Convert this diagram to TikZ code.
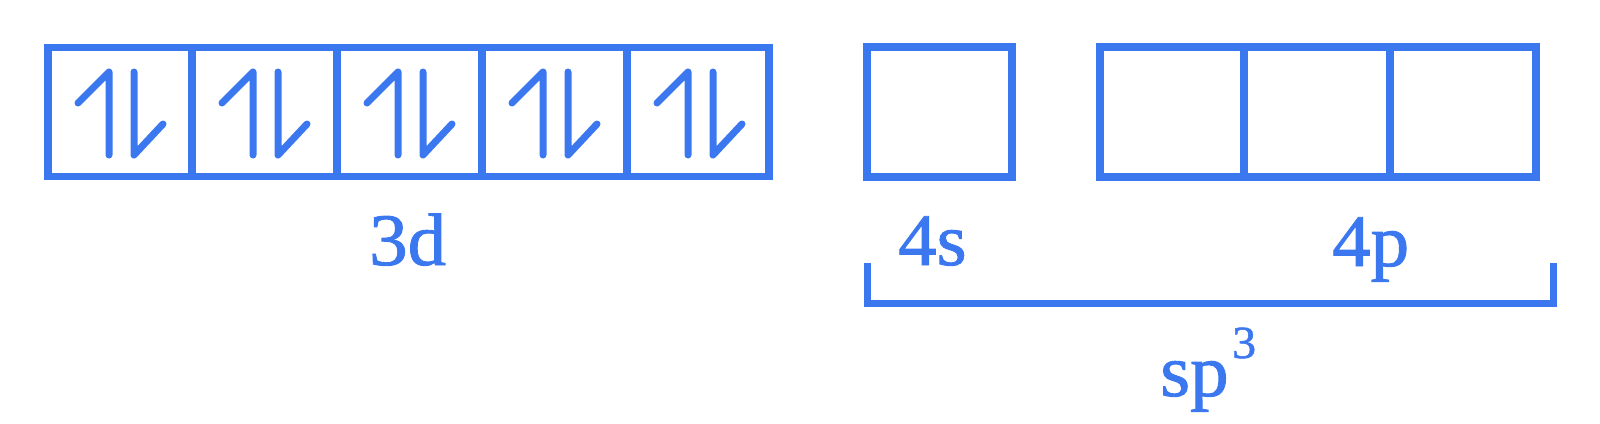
\documentclass[tikz,border=0pt]{standalone}
\usepackage{fontspec}
\setmainfont{Liberation Serif}
\newfontfamily\labfont[FakeBold=1.2,FakeStretch=1.04]{Liberation Serif}
\definecolor{orb}{RGB}{59,120,240}
\begin{document}
\begin{tikzpicture}[x=1pt,y=-1pt,
  orbbox/.style={draw=orb,line width=7.5pt,rectangle,inner sep=0pt,outer sep=0pt,minimum height=129pt},
  spin/.style={draw=orb,line width=7pt,line cap=round,line join=round},
  lab/.style={text=orb,anchor=base west,inner sep=0pt,font=\labfont\fontsize{74}{80}\selectfont},
  supl/.style={text=orb,anchor=base west,inner sep=0pt,font=\labfont\fontsize{46}{50}\selectfont},
  brk/.style={draw=orb,line width=7pt}]
\useasboundingbox (0,0) rectangle (1600,423);
% 3d boxes
\node[orbbox,minimum width=144pt] (d1) at (120,112) {};
\node[orbbox,minimum width=145pt] (d2) at (264.5,112) {};
\node[orbbox,minimum width=145pt] (d3) at (409.5,112) {};
\node[orbbox,minimum width=145pt] (d4) at (554.5,112) {};
\node[orbbox,minimum width=142pt] (d5) at (698,112) {};
% 4s box
\node[orbbox,minimum width=145pt,minimum height=130pt] (s) at (939.5,112) {};
% 4p boxes
\node[orbbox,minimum width=144pt,minimum height=130pt] (p1) at (1172,112) {};
\node[orbbox,minimum width=146pt,minimum height=130pt] (p2) at (1317,112) {};
\node[orbbox,minimum width=146pt,minimum height=130pt] (p3) at (1463,112) {};
% paired spins
\foreach \b/\xl in {d1/48,d2/192,d3/337,d4/482,d5/627}{
  \draw[spin] (\xl+30,103) -- (\xl+61,72) -- (\xl+61,155);
  \draw[spin] (\xl+86,72) -- (\xl+86,155) -- (\xl+115,124);
}
% labels
\node[lab] (l3d) at (369,265) {3d};
\node[lab] (l4s) at (898,265) {4s};
\node[lab] (l4p) at (1332,266) {4p};
\node[lab] (lsp) at (1160,396) {sp};
\node[supl] (lsup) at (1232,358) {3};
% bracket
\coordinate (bl) at (867,263);
\coordinate (blc) at (867,303);
\coordinate (brc) at (1553,303);
\coordinate (br) at (1553,263);
\draw[brk] (bl) -- (blc) -- (brc) -- (br);
\end{tikzpicture}
\end{document}
